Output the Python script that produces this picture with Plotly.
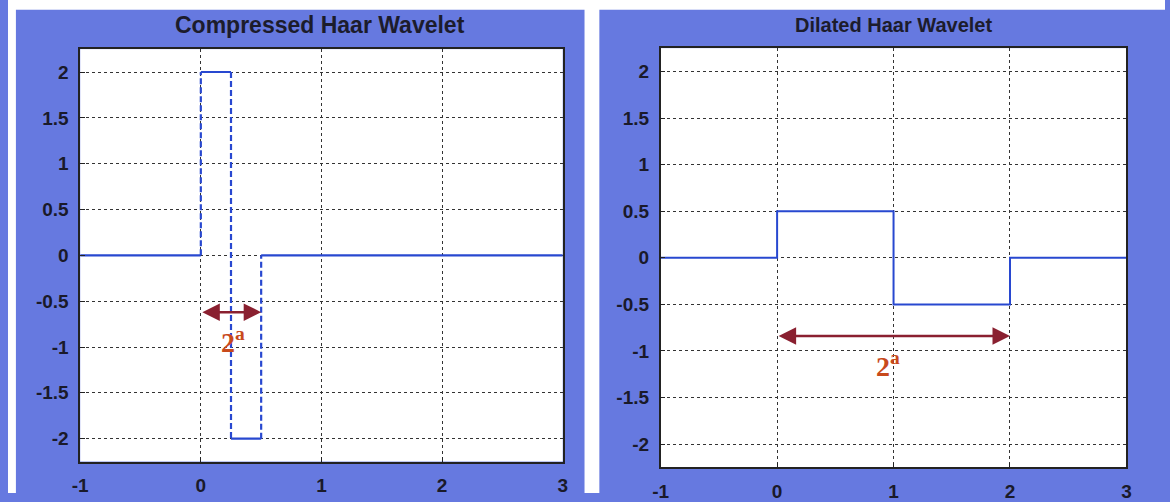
import plotly.graph_objects as go

W, H = 1170, 502

# Data
left_x = [-1, 0, 0, 0.25, 0.25, 0.5, 0.5, 3]
left_y = [0, 0, 2, 2, -2, -2, 0, 0]
right_x = [-1, 0, 0, 1, 1, 2, 2, 3]
right_y = [0, 0, 0.5, 0.5, -0.5, -0.5, 0, 0]
x_ticks = [-1, 0, 1, 2, 3]
x_tick_labels = ["-1", "0", "1", "2", "3"]
y_ticks = [-2, -1.5, -1, -0.5, 0, 0.5, 1, 1.5, 2]
y_tick_labels = ["-2", "-1.5", "-1", "-0.5", "0", "0.5", "1", "1.5", "2"]
titles = ["Compressed Haar Wavelet", "Dilated Haar Wavelet"]
title_sizes = [23, 20]
left_span = [0, 0.5]
right_span = [0, 2]

BLUE_BG = "#6679e0"
LINE = "#2848d0"
ARROW = "#8a2030"
LABEL = "#c84a1c"

fig = go.Figure()

# Left: horizontal segments solid, vertical segments dashed
hx, hy, vx, vy = [], [], [], []
for i in range(len(left_x) - 1):
    if left_x[i] == left_x[i + 1]:
        vx += [left_x[i], left_x[i + 1], None]
        vy += [left_y[i], left_y[i + 1], None]
    else:
        hx += [left_x[i], left_x[i + 1], None]
        hy += [left_y[i], left_y[i + 1], None]
fig.add_trace(go.Scatter(x=hx, y=hy, mode="lines", line=dict(color=LINE, width=2.2),
                         xaxis="x", yaxis="y", showlegend=False))
fig.add_trace(go.Scatter(x=vx, y=vy, mode="lines", line=dict(color=LINE, width=2.2, dash="6px,3px"),
                         xaxis="x", yaxis="y", showlegend=False))
fig.add_trace(go.Scatter(x=right_x, y=right_y, mode="lines", line=dict(color=LINE, width=2),
                         xaxis="x2", yaxis="y2", showlegend=False))

axis_common = dict(
    showgrid=True, gridcolor="#333333", gridwidth=1, griddash="3px,3px",
    zeroline=False, showline=True, linecolor="#222222", linewidth=1.5, mirror=True,
    ticks="inside", ticklen=5, tickcolor="#222222", ticklabelstandoff=6,
    tickfont=dict(family="Liberation Sans", size=19, color="#1a1a2a", weight="bold"),
)

fig.update_layout(
    width=W, height=H,
    margin=dict(l=0, r=0, t=0, b=0),
    paper_bgcolor=BLUE_BG,
    plot_bgcolor="white",
    xaxis=dict(domain=[73 / W, 561 / W], range=[-1, 3], tickvals=x_ticks, ticktext=x_tick_labels,
               anchor="y", **axis_common),
    yaxis=dict(domain=[1 - 470 / H, 1 - 50 / H], range=[-2.25, 2.25], tickvals=y_ticks,
               ticktext=y_tick_labels, anchor="x", **axis_common),
    xaxis2=dict(domain=[660 / W, 1131 / W], range=[-1, 3], tickvals=x_ticks, ticktext=x_tick_labels,
                anchor="y2", **axis_common),
    yaxis2=dict(domain=[1 - 476 / H, 1 - 49 / H], range=[-2.25, 2.25], tickvals=y_ticks,
                ticktext=y_tick_labels, anchor="x2", **axis_common),
    shapes=[
        dict(type="rect", xref="paper", yref="paper", x0=0, x1=1, y0=1 - 10 / H, y1=1,
             fillcolor="white", line=dict(width=0), layer="below"),
        dict(type="rect", xref="paper", yref="paper", x0=0, x1=8 / W, y0=0, y1=1,
             fillcolor="white", line=dict(width=0), layer="below"),
        dict(type="rect", xref="paper", yref="paper", x0=583 / W, x1=598 / W, y0=0, y1=1,
             fillcolor="white", line=dict(width=0), layer="below"),
    ],
)

anns = []
for t, cx, fs in zip(titles, [316 / W, 895 / W], title_sizes):
    anns.append(dict(text="<b>" + t + "</b>", xref="paper", yref="paper", x=cx, y=1 - 25 / H,
                     showarrow=False, xanchor="center", yanchor="middle",
                     font=dict(family="Liberation Sans", size=fs, color="#1c1c2c")))

# Double-headed arrows
for (xr, yr, span, yv) in [("x", "y", left_span, -0.62), ("x2", "y2", right_span, -0.84)]:
    anns.append(dict(x=span[1], y=yv, ax=span[0], ay=yv, xref=xr, yref=yr, axref=xr, ayref=yr,
                     showarrow=True, arrowhead=2, arrowside="end+start", arrowsize=1.4,
                     arrowwidth=2.5, arrowcolor=ARROW, text=""))

# 2^a labels
for (xr, yr, xv, yv) in [("x", "y", 0.27, -0.93), ("x2", "y2", 0.95, -1.14)]:
    anns.append(dict(text="<b>2<sup>a</sup></b>", x=xv, y=yv, xref=xr, yref=yr, showarrow=False,
                     font=dict(family="Liberation Serif", size=28, color=LABEL)))

fig.update_layout(annotations=anns)

fig.write_html("out.html", config={"displayModeBar": False},
               post_script="document.body.style.margin='0';document.body.style.overflow='hidden';")
